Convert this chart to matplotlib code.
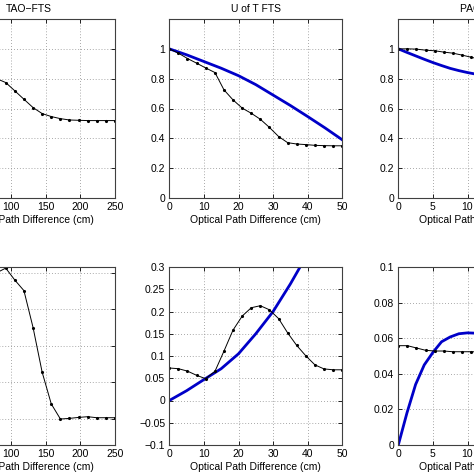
import numpy as np
import matplotlib
matplotlib.use('Agg')
import matplotlib.pyplot as plt

plt.rcParams['font.family'] = ['Liberation Sans', 'DejaVu Sans']
plt.rcParams['font.size'] = 7.5

# sample positions (20 samples per scan)
x_tao = [0, 13.2, 26.3, 39.5, 52.6, 65.8, 78.9, 92.1, 105.3, 118.4,
         131.6, 144.7, 157.9, 171.1, 184.2, 197.4, 210.5, 223.7, 236.8, 250]
x_uoft = [0, 2.63, 5.26, 7.89, 10.5, 13.2, 15.8, 18.4, 21.1, 23.7,
          26.3, 28.9, 31.6, 34.2, 36.8, 39.5, 42.1, 44.7, 47.4, 50]
x_pa = [0, 1.32, 2.63, 3.95, 5.26, 6.58, 7.89, 9.21, 10.5, 11.8,
        13.2, 14.5, 15.8, 17.1, 18.4, 19.7, 21.1, 22.4, 23.7, 25]

# top row: measured (black)
tao_top = [1.0, 0.99, 0.97, 0.94, 0.9, 0.85, 0.8, 0.774, 0.718, 0.662,
           0.606, 0.566, 0.546, 0.532, 0.523, 0.521, 0.519, 0.519, 0.519, 0.519]
uoft_top = [1.0, 0.971, 0.935, 0.904, 0.872, 0.841, 0.725, 0.658, 0.602, 0.568,
            0.528, 0.474, 0.412, 0.371, 0.362, 0.358, 0.353, 0.351, 0.35, 0.35]
pa_top = [1.0, 1.0, 0.998, 0.991, 0.987, 0.978, 0.971, 0.958, 0.944, 0.93,
          0.915, 0.9, 0.885, 0.87, 0.86, 0.85, 0.845, 0.84, 0.838, 0.836]

# bottom row: measured (black)
tao_bot = [0.08, 0.11, 0.14, 0.16, 0.18, 0.19, 0.2, 0.2065, 0.19, 0.1756,
           0.125, 0.0639, 0.0203, -0.0004, 0.0005, 0.0018, 0.0028, 0.0014, 0.0014, 0.0014]
uoft_bot = [0.073, 0.0715, 0.066, 0.0566, 0.049, 0.0656, 0.111, 0.158, 0.19, 0.2085,
            0.213, 0.204, 0.184, 0.152, 0.124, 0.1, 0.08, 0.071, 0.069, 0.069]
pa_bot = [0.0558, 0.0558, 0.0545, 0.0532, 0.0528, 0.0528, 0.0524, 0.0524, 0.0524, 0.0523,
          0.0523, 0.0523, 0.0523, 0.0523, 0.0523, 0.0523, 0.0523, 0.0523, 0.0523, 0.0523]

# model curves (blue)
xm_uoft = [0, 5, 10, 15, 20, 25, 30, 35, 40, 45, 50]
uoft_model_top = [1.0, 0.96, 0.915, 0.87, 0.82, 0.76, 0.69, 0.62, 0.546, 0.47, 0.39]
xm_uoft_b = [0, 5, 10, 15, 20, 25, 30, 35, 40, 45, 50]
uoft_model_bot = [0.0, 0.022, 0.047, 0.0715, 0.105, 0.15, 0.2, 0.262, 0.33, 0.42, 0.52]
xm_pa = [0, 1.25, 2.5, 3.75, 5, 6.25, 7.5, 8.75, 10, 11.25, 12.5, 15, 17.5, 20, 22.5, 25]
pa_model_top = [1.0, 0.976, 0.953, 0.93, 0.908, 0.888, 0.869, 0.854, 0.841, 0.83,
                0.82, 0.79, 0.76, 0.72, 0.68, 0.64]
pa_model_bot = [0.0, 0.018, 0.034, 0.045, 0.052, 0.058, 0.0607, 0.0625, 0.063, 0.0628,
                0.062, 0.059, 0.054, 0.048, 0.04, 0.032]

W = 173 / 474.0
lefts = [-58 / 474.0, 169.3 / 474.0, 398.3 / 474.0]
top_b, top_h = 276 / 474.0, 179 / 474.0
bot_b, bot_h = 29 / 474.0, 178 / 474.0

fig = plt.figure(figsize=(4.74, 4.74), dpi=100)

def style(ax):
    ax.grid(True, linestyle=(0, (1, 2.5)), color='#8c8c8c', linewidth=0.6)
    ax.tick_params(direction='in', length=3, width=0.6, pad=3,
                   top=True, right=True, labelsize=7.5)
    for s in ax.spines.values():
        s.set_color('#404040')
        s.set_linewidth(0.8)

blue = '#0000c8'
XL = 'Optical Path Difference (cm)'

# top row
ax = fig.add_axes([lefts[0], top_b, W, top_h])
ax.plot(x_tao, tao_top, 'k.-', lw=0.7, ms=2.5)
ax.set_xlim(0, 250); ax.set_ylim(0, 1.2)
ax.set_xticks([0, 50, 100, 150, 200, 250]); ax.set_yticks([0, 0.2, 0.4, 0.6, 0.8, 1])
ax.set_title('TAO\u2212FTS', fontsize=7.5, pad=5)
ax.set_xlabel(XL, labelpad=2)
style(ax)

ax = fig.add_axes([lefts[1], top_b, W, top_h])
ax.plot(xm_uoft, uoft_model_top, color=blue, lw=2)
ax.plot(x_uoft, uoft_top, 'k.-', lw=0.7, ms=2.5)
ax.set_xlim(0, 50); ax.set_ylim(0, 1.2)
ax.set_xticks([0, 10, 20, 30, 40, 50]); ax.set_yticks([0, 0.2, 0.4, 0.6, 0.8, 1])
ax.set_yticklabels(['0', '0.2', '0.4', '0.6', '0.8', '1'])
ax.set_xticklabels(['0', '10', '20', '30', '40', '50'])
ax.set_title('U of T FTS', fontsize=7.5, pad=5)
ax.set_xlabel(XL, labelpad=2)
style(ax)

ax = fig.add_axes([lefts[2], top_b, W, top_h])
ax.plot(xm_pa, pa_model_top, color=blue, lw=2)
ax.plot(x_pa, pa_top, 'k.-', lw=0.7, ms=2.5)
ax.set_xlim(0, 25); ax.set_ylim(0, 1.2)
ax.set_xticks([0, 5, 10, 15, 20, 25]); ax.set_yticks([0, 0.2, 0.4, 0.6, 0.8, 1])
ax.set_yticklabels(['0', '0.2', '0.4', '0.6', '0.8', '1'])
ax.set_title('PACS FTS', fontsize=7.5, pad=5)
ax.set_xlabel(XL, labelpad=2)
style(ax)

# bottom row
ax = fig.add_axes([lefts[0], bot_b, W, bot_h])
ax.plot(x_tao, tao_bot, 'k.-', lw=0.7, ms=2.5)
ax.set_xlim(0, 250); ax.set_ylim(-0.036, 0.208)
ax.set_xticks([0, 50, 100, 150, 200, 250]); ax.set_yticks([0, 0.05, 0.1, 0.15, 0.2])
ax.set_xlabel(XL, labelpad=2)
style(ax)

ax = fig.add_axes([lefts[1], bot_b, W, bot_h])
ax.plot(xm_uoft_b, uoft_model_bot, color=blue, lw=2)
ax.plot(x_uoft, uoft_bot, 'k.-', lw=0.7, ms=2.5)
ax.set_xlim(0, 50); ax.set_ylim(-0.1, 0.3)
ax.set_xticks([0, 10, 20, 30, 40, 50])
ax.set_xticklabels(['0', '10', '20', '30', '40', '50'])
yt = [-0.1, -0.05, 0, 0.05, 0.1, 0.15, 0.2, 0.25, 0.3]
ax.set_yticks(yt)
ax.set_yticklabels(['\u22120.1', '\u22120.05', '0', '0.05', '0.1', '0.15', '0.2', '0.25', '0.3'])
ax.set_xlabel(XL, labelpad=2)
style(ax)

ax = fig.add_axes([lefts[2], bot_b, W, bot_h])
ax.plot(xm_pa, pa_model_bot, color=blue, lw=2)
ax.plot(x_pa, pa_bot, 'k.-', lw=0.7, ms=2.5)
ax.set_xlim(0, 25); ax.set_ylim(0, 0.1)
ax.set_xticks([0, 5, 10, 15, 20, 25])
ax.set_yticks([0, 0.02, 0.04, 0.06, 0.08, 0.1])
ax.set_yticklabels(['0', '0.02', '0.04', '0.06', '0.08', '0.1'])
ax.set_xlabel(XL, labelpad=2)
style(ax)

fig.savefig('out.png', dpi=100)
